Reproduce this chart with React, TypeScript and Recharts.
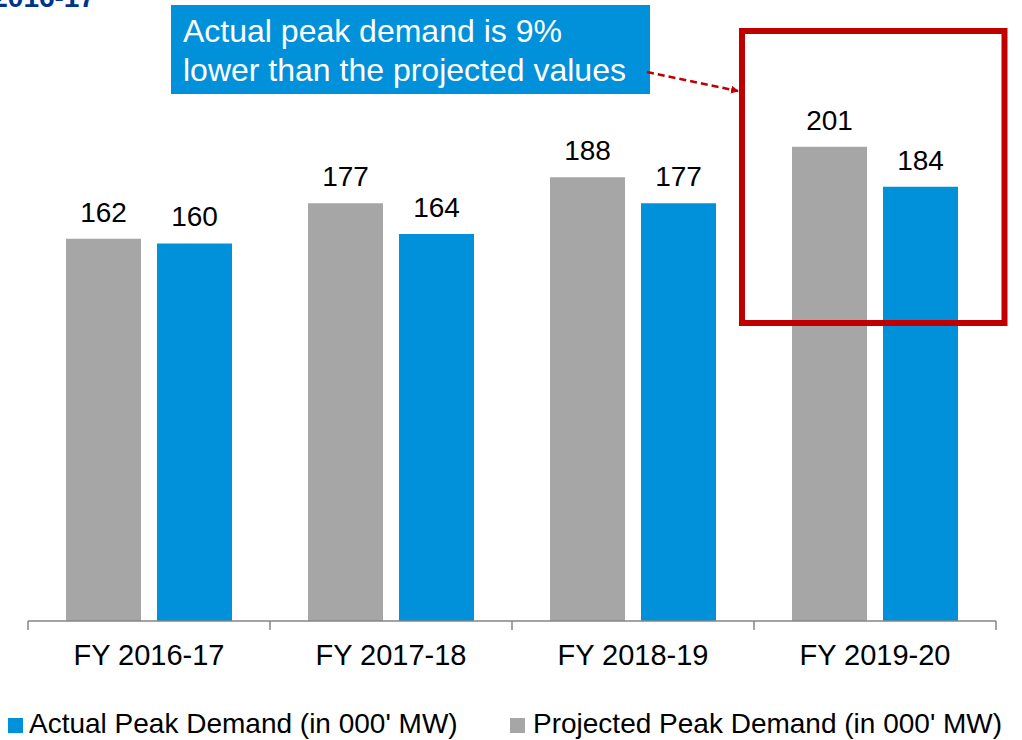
import { BarChart, Bar, XAxis, YAxis, LabelList } from 'recharts';

const categories = ['FY 2016-17', 'FY 2017-18', 'FY 2018-19', 'FY 2019-20'];
const projected = [162, 177, 188, 201];
const actual = [160, 164, 177, 184];

const data = categories.map((name, i) => ({
  name,
  projected: projected[i],
  actual: actual[i],
}));

const W = 1022;
const H = 740;
const MARGIN = { top: 31, right: 26, left: 28, bottom: 59 };
const AXIS_H = 60;
const AXIS_Y = H - MARGIN.bottom - AXIS_H; // 621
const HALF_BAND = (W - MARGIN.left - MARGIN.right) / categories.length / 2;

const BLUE = '#0091DA';
const GREY = '#A6A6A6';
const RED = '#C00000';
const FONT = '"Liberation Sans", Arial, sans-serif';

function CategoryTick({ x, payload, index }: { x: number; payload: { value: string }; index: number }) {
  const last = index === categories.length - 1;
  return (
    <g>
      <line x1={x - HALF_BAND} y1={AXIS_Y} x2={x - HALF_BAND} y2={AXIS_Y + 9} stroke="#858585" strokeWidth={1.5} />
      {last && (
        <line x1={x + HALF_BAND} y1={AXIS_Y} x2={x + HALF_BAND} y2={AXIS_Y + 9} stroke="#858585" strokeWidth={1.5} />
      )}
      <text x={x} y={AXIS_Y + 44} textAnchor="middle" fontSize={29} fill="#000" fontFamily={FONT}>
        {payload.value}
      </text>
    </g>
  );
}

export default function App() {
  return (
    <div style={{ position: 'absolute', left: 0, top: 0, width: W, height: H, background: '#fff', fontFamily: FONT }}>
      <BarChart width={W} height={H} data={data} margin={MARGIN} barSize={75} barGap={16}>
        <XAxis
          dataKey="name"
          height={AXIS_H}
          interval={0}
          tickLine={false}
          axisLine={{ stroke: '#858585', strokeWidth: 1.5 }}
          tick={(props: any) => <CategoryTick {...props} />}
        />
        <YAxis hide domain={[0, 250]} />
        <Bar dataKey="projected" fill={GREY} isAnimationActive={false}>
          <LabelList dataKey="projected" position="top" offset={17} style={{ fontSize: 28, fill: '#000', fontFamily: FONT }} />
        </Bar>
        <Bar dataKey="actual" fill={BLUE} isAnimationActive={false}>
          <LabelList dataKey="actual" position="top" offset={17} style={{ fontSize: 28, fill: '#000', fontFamily: FONT }} />
        </Bar>
      </BarChart>

      <svg width={W} height={H} style={{ position: 'absolute', left: 0, top: 0, pointerEvents: 'none' }} fontFamily={FONT}>
        <defs>
          <marker id="arrow" markerWidth="8" markerHeight="8" refX="7" refY="4" orient="auto" markerUnits="userSpaceOnUse">
            <path d="M0,0 L8,4 L0,8 z" fill={RED} />
          </marker>
        </defs>

        {/* title, cut off at the top edge as in the source */}
        <text x={95} y={7} textAnchor="end" fontSize={28} fontWeight="bold" fill="#00338D">
          FY 2016-17
        </text>

        {/* callout */}
        <rect x={171} y={5} width={479} height={89} fill={BLUE} />
        <text x={183} y={42} fontSize={32} fill="#fff">Actual peak demand is 9%</text>
        <text x={183} y={81} fontSize={32} fill="#fff">lower than the projected values</text>

        <line x1={647} y1={72} x2={738} y2={91} stroke={RED} strokeWidth={2.5} strokeDasharray="7 4" markerEnd="url(#arrow)" />

        {/* highlight box */}
        <rect x={742} y={31} width={262.5} height={292} fill="none" stroke={RED} strokeWidth={6} />

        {/* legend */}
        <rect x={8} y={718} width={15} height={15} fill={BLUE} />
        <text x={29} y={733} fontSize={28} fill="#000">Actual Peak Demand (in 000' MW)</text>
        <rect x={510} y={718} width={15} height={15} fill={GREY} />
        <text x={533} y={733} fontSize={28} fill="#000">Projected Peak Demand (in 000' MW)</text>
      </svg>
    </div>
  );
}
